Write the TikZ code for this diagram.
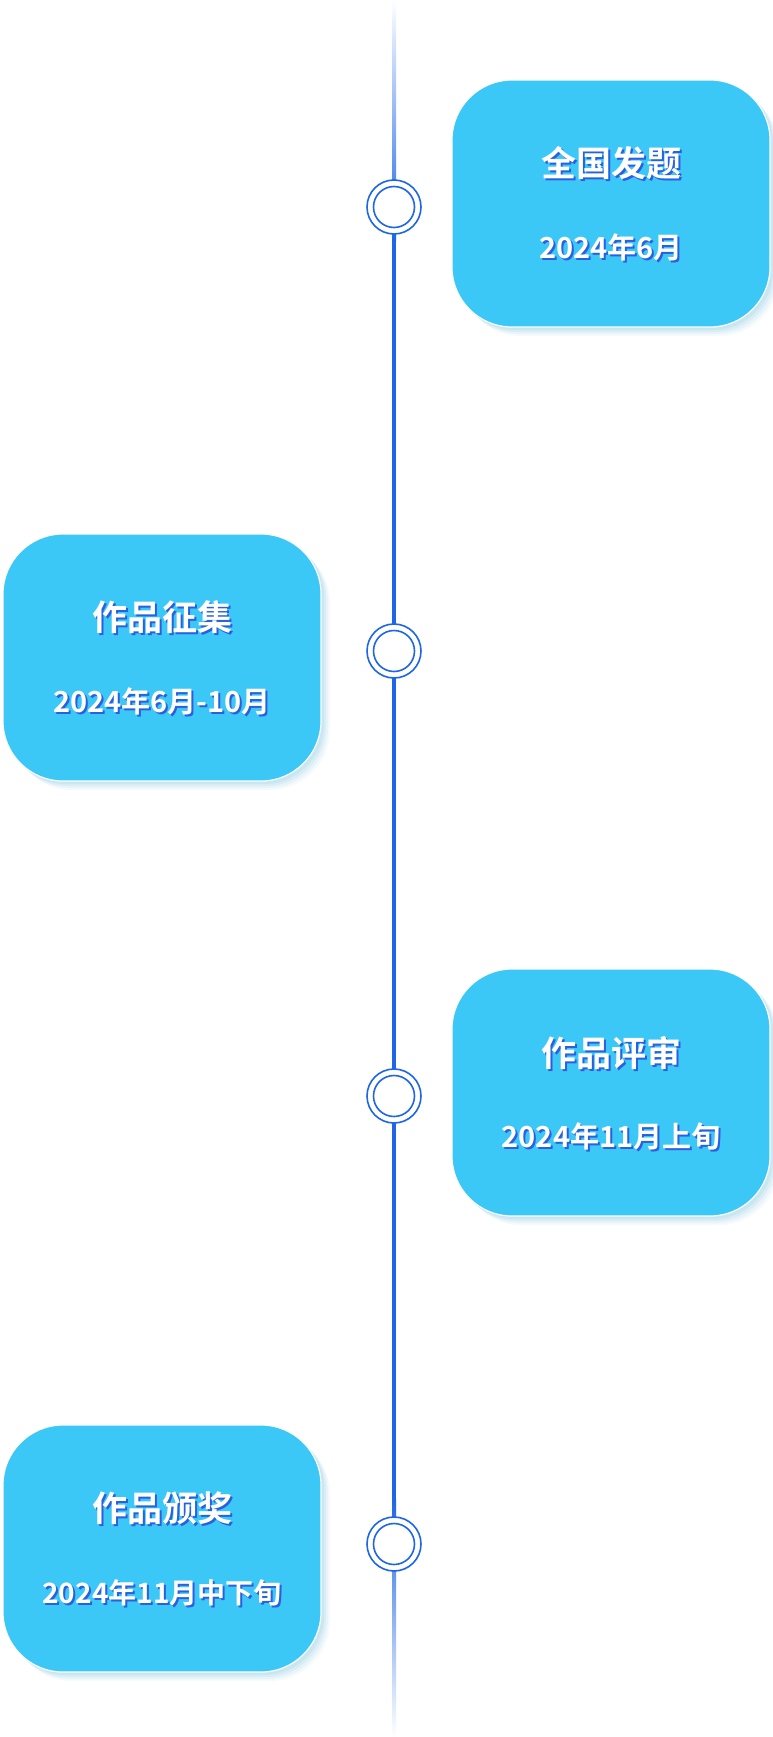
\documentclass[tikz,border=0pt]{standalone}
\usepackage{fontspec}
\newfontfamily\cjk{Noto Sans CJK SC Bold}
\definecolor{boxc}{HTML}{3CC8F6}
\definecolor{linec}{HTML}{1E66E6}
\definecolor{shc}{HTML}{2A5FE0}
\definecolor{shadc}{HTML}{5BB8D8}
\begin{document}
\begin{tikzpicture}[x=1pt,y=-1pt,
  card/.style={draw=white,line width=1.2pt,fill=boxc,rounded corners=60pt,minimum width=318pt,minimum height=247pt,inner sep=0pt},
  ring/.style={circle,draw=linec,line width=1.6pt,fill=white,minimum size=54pt,inner sep=0pt,double=white,double distance=0pt},
  inring/.style={circle,draw=linec,line width=1.6pt,minimum size=41pt,inner sep=0pt}]
\useasboundingbox (0,0) rectangle (773,1737);
\fill[white] (0,0) rectangle (773,1737);
% timeline
\shade[top color=white,bottom color=linec] (392,0) rectangle (396,240);
\fill[linec] (392,239) rectangle (396,1500);
\shade[top color=linec,bottom color=white] (392,1499) rectangle (396,1737);
\newcommand\stage[6]{%
  \foreach \k/\o in {9/0.06,7/0.08,5/0.1,3/0.12}{
    \fill[shadc,opacity=\o,rounded corners=60pt] (#1-159+\k,#2-123.5+\k) rectangle (#1+159+\k,#2+123.5+\k);}
  \node[card] (#3) at (#1,#2) {};
  \node[font=\cjk\fontsize{35}{40}\selectfont,text=shc] at (#1+2,#2-40+2) {#4};
  \node[font=\cjk\fontsize{35}{40}\selectfont,text=white] (#3t) at (#1,#2-40) {#4};
  \node[font=\cjk\fontsize{#6}{32}\selectfont,text=shc] at (#1+2,#2+44+2) {#5};
  \node[font=\cjk\fontsize{#6}{32}\selectfont,text=white] (#3d) at (#1,#2+44) {#5};
}
\stage{611}{203.5}{a}{全国发题}{2024年6月}{29}
\stage{162}{657.5}{b}{作品征集}{2024年6月-10月}{29}
\stage{611}{1092.5}{c}{作品评审}{2024年11月上旬}{29}
\stage{162}{1548.5}{d}{作品颁奖}{2024年11月中下旬}{28}
\foreach \n/\y in {r1/207,r2/651,r3/1096,r4/1544}{
  \node[circle,draw=linec,line width=1.6pt,fill=white,minimum size=54pt,inner sep=0pt] (\n) at (394,\y) {};
  \node[inring] (\n i) at (394,\y) {};
}
\end{tikzpicture}
\end{document}
